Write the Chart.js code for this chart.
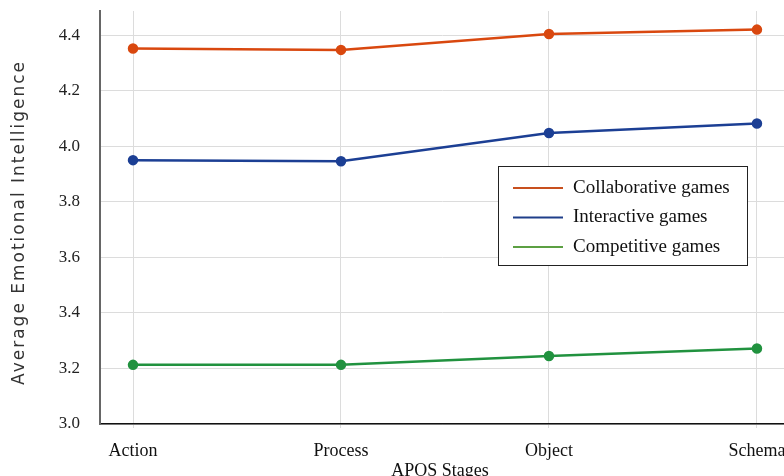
<!DOCTYPE html>
<html><head><meta charset="utf-8">
<script src="https://cdn.jsdelivr.net/npm/chart.js@4"></script>
<style>html,body{margin:0;padding:0;background:#fff}#wrap{width:784px;height:476px}</style>
</head><body><div id="wrap"><canvas id="c" width="784" height="476"></canvas></div>
<script>
const categories = ["Action", "Process", "Object", "Schema"];
const collaborative = [4.352, 4.347, 4.404, 4.420];
const interactive = [3.950, 3.946, 4.048, 4.082];
const competitive = [3.213, 3.213, 3.245, 3.272];
const seriesNames = ["Collaborative games", "Interactive games", "Competitive games"];
const yTicks = [3.0, 3.2, 3.4, 3.6, 3.8, 4.0, 4.2, 4.4];
const yTitle = "Average Emotional Intelligence";
const xTitle = "APOS Stages";

const colors = ["#d9480f", "#1c3f94", "#21923f"];
const legendColors = ["#c8501e", "#1f3f8a", "#5ca043"];
const toPts = arr => arr.map((v, i) => ({x: i, y: v}));

const legendPlugin = {
  id: 'boxLegend',
  afterDraw(chart) {
    const ctx = chart.ctx;
    const a = chart.chartArea;
    const x0 = 498, y0 = 166, w = 249, h = 99;
    ctx.save();
    ctx.fillStyle = '#fff';
    ctx.fillRect(x0, y0, w, h);
    ctx.strokeStyle = '#222';
    ctx.lineWidth = 1;
    ctx.strokeRect(x0 + 0.5, y0 + 0.5, w, h);
    ctx.font = '19px "Liberation Serif"';
    ctx.textBaseline = 'middle';
    chart.data.datasets.forEach((ds, i) => {
      const yy = y0 + 22 + i * 29.5;
      ctx.strokeStyle = legendColors[i];
      ctx.lineWidth = 2;
      ctx.beginPath(); ctx.moveTo(x0 + 15, yy); ctx.lineTo(x0 + 65, yy); ctx.stroke();
      ctx.fillStyle = '#111';
      ctx.fillText(ds.label, x0 + 75, yy);
    });
    // x title
    ctx.font = '18px "Liberation Serif"';
    ctx.textAlign = 'center';
    ctx.fillText(xTitle, 440, 471);
    // rotated y title with letter spacing
    ctx.save();
    ctx.translate(20, (a.top + a.bottom) / 2 + 5);
    ctx.rotate(-Math.PI / 2);
    ctx.font = '17px "DejaVu Sans"';
    try { ctx.letterSpacing = '2px'; } catch (e) {}
    ctx.fillStyle = '#333';
    ctx.textAlign = 'center';
    ctx.textBaseline = 'middle';
    ctx.fillText(yTitle, 0, 0);
    ctx.restore();
    ctx.restore();
  }
};

new Chart(document.getElementById('c'), {
  type: 'line',
  data: {
    datasets: [collaborative, interactive, competitive].map((d, i) => ({
      label: seriesNames[i],
      data: toPts(d),
      borderColor: colors[i],
      backgroundColor: colors[i],
      borderWidth: 2.5,
      pointRadius: 4,
      pointHoverRadius: 4,
      tension: 0
    }))
  },
  options: {
    responsive: false,
    animation: false,
    layout: {autoPadding: false, padding: {top: 11, right: 0, left: 0, bottom: 0}},
    plugins: {legend: {display: false}, tooltip: {enabled: false}},
    scales: {
      x: {
        type: 'linear',
        min: -0.1587, max: 3.13,
        afterBuildTicks: s => { s.ticks = categories.map((c, i) => ({value: i})); },
        afterFit: s => { s.height = 52; s.paddingLeft = 0; s.paddingRight = 0; },
        ticks: {
          includeBounds: false,
          callback: v => categories[v] ?? '',
          font: {family: 'Liberation Serif', size: 18},
          color: '#111', padding: 12, maxRotation: 0
        },
        grid: {color: '#dcdcdc', lineWidth: 1, drawTicks: true, tickLength: 4},
        border: {color: '#111', width: 1.5},
        title: {display: false}
      },
      y: {
        min: 3.0, max: 4.487,
        afterBuildTicks: s => { s.ticks = yTicks.map(v => ({value: v})); },
        afterFit: s => { s.width = 100; s.paddingTop = 0; s.paddingBottom = 0; },
        ticks: {
          callback: v => v.toFixed(1),
          font: {family: 'Liberation Serif', size: 17},
          color: '#222', padding: 20
        },
        grid: {color: '#dcdcdc', lineWidth: 1, drawTicks: false},
        border: {color: '#666', width: 2},
        title: {display: false}
      }
    }
  },
  plugins: [legendPlugin]
});
</script></body></html>
